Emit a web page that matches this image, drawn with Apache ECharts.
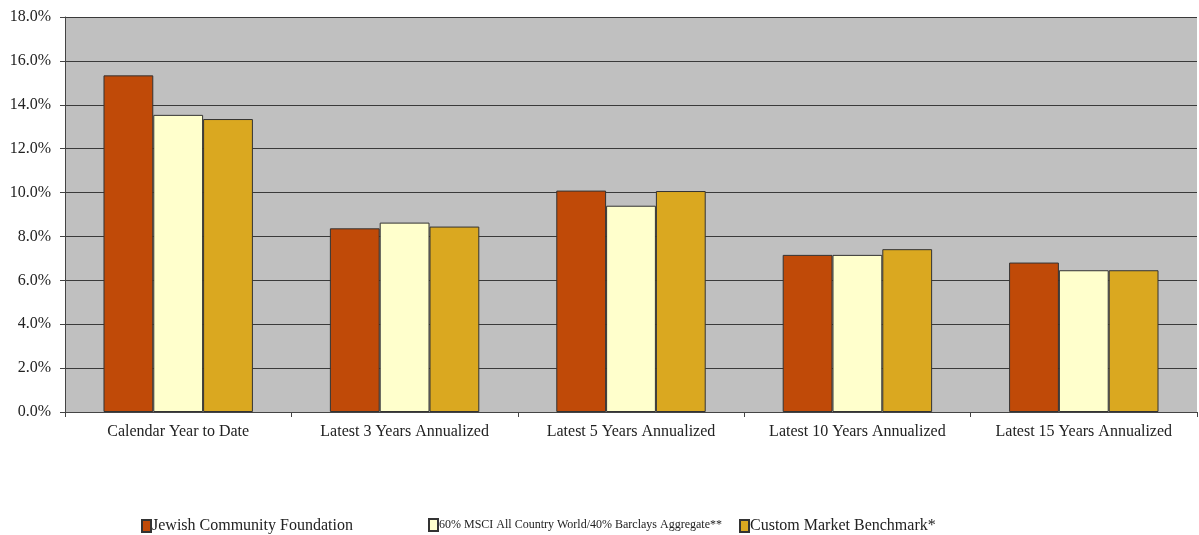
<!DOCTYPE html>
<html><head><meta charset="utf-8">
<script src="https://cdn.jsdelivr.net/npm/echarts@6/dist/echarts.min.js"></script>
<style>html,body{margin:0;padding:0;background:#fff}#c{width:1199px;height:535px}</style>
</head><body><div id="c"></div>
<script>
const categories = ['Calendar Year to Date','Latest 3 Years Annualized','Latest 5 Years Annualized','Latest 10 Years Annualized','Latest 15 Years Annualized'];
const seriesNames = ['Jewish Community Foundation','60% MSCI All Country World/40% Barclays Aggregate**','Custom Market Benchmark*'];
const jcf = [15.34, 8.37, 10.09, 7.16, 6.81];
const msci = [13.54, 8.63, 9.40, 7.16, 6.46];
const custom = [13.35, 8.45, 10.07, 7.42, 6.46];
const yTicks = [0,2,4,6,8,10,12,14,16,18];
const colors = ['#C04A08','#FFFFCC','#DAA820'];
const values = [jcf, msci, custom];
const font = 'Liberation Serif';
const chart = echarts.init(document.getElementById('c'));
const legendLefts = [136, 423, 734];
const legendSizes = [16, 12, 16];
chart.setOption({
  animation:false,
  grid:{left:65,right:2,top:17,bottom:123,show:true,backgroundColor:'#C0C0C0',borderWidth:0},
  legend: seriesNames.map((n,i)=>({data:[n],left:legendLefts[i],top:513,itemWidth:9,itemHeight:12,itemGap:0,
    textStyle:{fontFamily:font,fontSize:legendSizes[i],color:'#222',padding:[0,0,0,-4]},icon:'rect'})),
  xAxis:{type:'category',data:categories,
    axisLine:{lineStyle:{color:'#444',width:1}},
    axisTick:{show:true,length:5,lineStyle:{color:'#444'}},
    axisLabel:{fontFamily:font,fontSize:16,color:'#222',margin:12,interval:0}},
  yAxis:{type:'value',min:0,max:18,interval:2,
    axisLine:{show:true,lineStyle:{color:'#444'}},
    axisTick:{show:true,length:5,lineStyle:{color:'#444'}},
    axisLabel:{fontFamily:font,fontSize:16,color:'#222',margin:14,formatter:v=>yTicks.includes(v)?v.toFixed(1)+'%':''},
    splitLine:{show:true,lineStyle:{color:'#3a3a3a',width:1}}},
  series: seriesNames.map((n,i)=>({name:n,type:'bar',data:values[i],barWidth:'22%',barGap:'0%',
    itemStyle:{color:colors[i],borderColor:'#333',borderWidth:1}}))
});
</script></body></html>
